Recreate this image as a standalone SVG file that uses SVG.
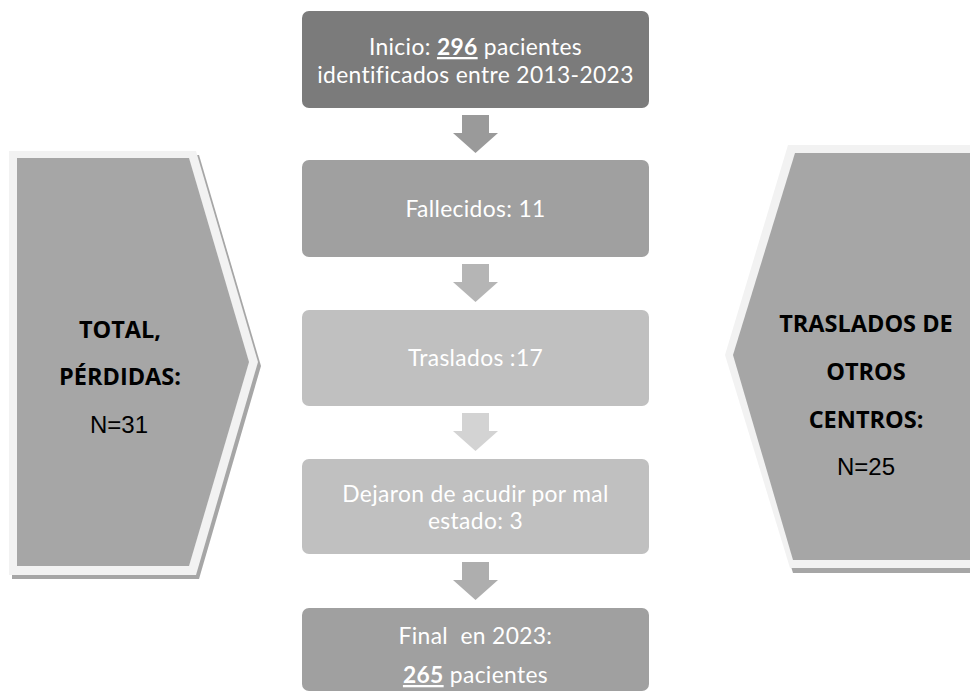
<svg xmlns="http://www.w3.org/2000/svg" width="970" height="699" viewBox="0 0 970 699">
<style>
.box text{font-family:Lato,"Open Sans",sans-serif;font-size:22.8px;letter-spacing:0.35px;fill:#ffffff;text-anchor:middle}
.lbl{font-family:"Open Sans","Noto Sans",sans-serif;font-size:23.5px;font-weight:bold;fill:#000;text-anchor:middle}
.num{font-family:"Liberation Sans",Arial,sans-serif;font-size:24px;fill:#000;text-anchor:middle}
.u{font-weight:bold;text-decoration:underline}
.rim{fill:#f2f2f2}
.shadow{fill:#a6a6a6}
.core{fill:#a6a6a6}
</style>
<defs>
<path id="arr" d="M-13.5,0 H13.5 V18 H22.5 L0,38 L-22.5,18 H-13.5 Z"/>
</defs>
<rect width="970" height="699" fill="#ffffff"/>

<g id="left-panel">
<polygon class="shadow" points="12,155 199,155 261,366 199,579 12,579"/>
<polygon class="rim" points="9,151 196,151 258,362 196,575 9,575"/>
<polygon class="core" points="17,158 189,158 249,362 189,566 17,566"/>
<text class="lbl" x="120" y="338">TOTAL,</text>
<text class="lbl" x="120" y="385">PÉRDIDAS:</text>
<text class="num" x="119" y="433">N=31</text>
</g>

<g id="right-panel">
<polygon class="shadow" points="791,149 985,149 985,573 793,573 728,359"/>
<polygon class="rim" points="788,145 985,145 985,568 790,568 725,355"/>
<polygon class="core" points="795,153 985,153 985,560 793,560 733,355"/>
<text class="lbl" x="866" y="332">TRASLADOS DE</text>
<text class="lbl" x="866" y="380">OTROS</text>
<text class="lbl" x="866" y="428">CENTROS:</text>
<text class="num" x="866" y="475">N=25</text>
</g>

<g id="node-inicio" class="box">
<rect x="302" y="11" width="347" height="97" rx="7" fill="#7b7b7b"/>
<text x="475.5" y="55">Inicio: <tspan class="u">296</tspan> pacientes<tspan x="475.5" dy="27.7">identificados entre 2013-2023</tspan></text>
</g>

<g id="node-fallecidos" class="box">
<rect x="302" y="160" width="347" height="97" rx="7" fill="#a0a0a0"/>
<text x="475.5" y="217">Fallecidos: 11</text>
</g>

<g id="node-traslados" class="box">
<rect x="302" y="310" width="347" height="96" rx="7" fill="#c0c0c0"/>
<text x="475.5" y="366" fill="#f4f4f4">Traslados :17</text>
</g>

<g id="node-dejaron" class="box">
<rect x="302" y="459" width="347" height="95" rx="7" fill="#c0c0c0"/>
<text x="475.5" y="501.5">Dejaron de acudir por mal<tspan x="475.5" dy="27.7">estado: 3</tspan></text>
</g>

<g id="node-final" class="box">
<rect x="302" y="608" width="347" height="83" rx="7" fill="#a0a0a0"/>
<text x="475.5" y="644" xml:space="preserve">Final  en 2023:</text>
<text x="475.5" y="683"><tspan class="u">265</tspan> pacientes</text>
</g>

<g id="connectors">
<use href="#arr" x="475.5" y="115" fill="#9a9a9a"/>
<use href="#arr" x="475.5" y="264" fill="#b5b5b5"/>
<use href="#arr" x="475.5" y="413" fill="#d3d3d3"/>
<use href="#arr" x="475.5" y="562" fill="#aeaeae"/>
</g>
</svg>
